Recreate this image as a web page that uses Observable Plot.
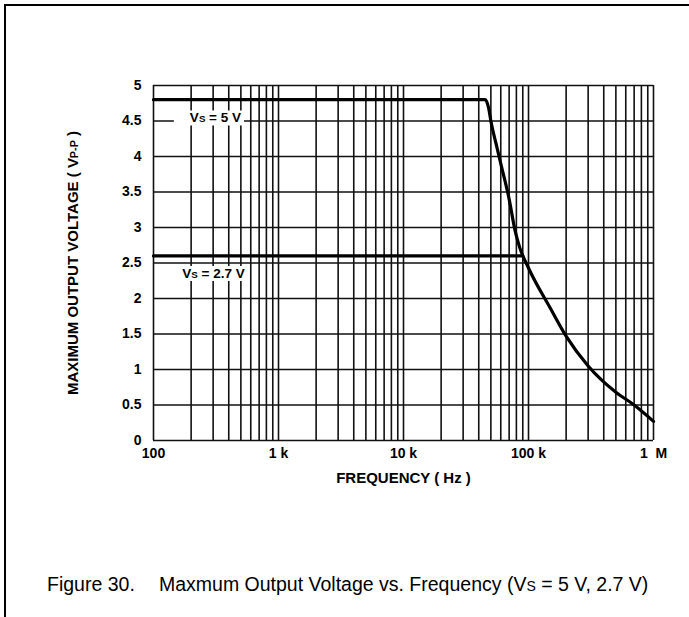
<!DOCTYPE html>
<html><head><meta charset="utf-8">
<script src="https://cdn.jsdelivr.net/npm/d3@7"></script>
<script src="https://cdn.jsdelivr.net/npm/@observablehq/plot@0.6"></script>
<style>
body{margin:0;background:#fff;}
#wrap{position:relative;width:689px;height:617px;overflow:hidden;font-family:"Liberation Sans",Arial,sans-serif;background:#fff;}
#chart{position:absolute;left:0;top:0;}
#caption{position:absolute;left:0;top:555px;}
#frame{position:absolute;left:4px;top:3.5px;width:720px;height:720px;border-top:2.5px solid #000;border-left:2.5px solid #000;pointer-events:none;}
</style></head><body>
<div id="wrap"><div id="chart"></div><svg id="caption" width="689" height="60"></svg><div id="frame"></div></div>
<script>
// ---- data ----
const freq5 = [100, 45000, 48000, 50000, 55000, 60000, 70000, 78000, 85000, 100000, 150000, 200000, 300000, 500000, 700000, 1000000];
const volt5 = [4.8, 4.8, 4.68, 4.5, 4.18, 3.9, 3.4, 2.96, 2.72, 2.43, 1.86, 1.47, 1.05, 0.68, 0.5, 0.27];
const freq27 = [100, 90000];
const volt27 = [2.6, 2.6];
const xTickValues = [100, 1000, 10000, 100000, 1000000];
const xTickLabels = ["100", "1 k", "10 k", "100 k", "1\u00a0\u00a0M"];
const yTickValues = [0, 0.5, 1, 1.5, 2, 2.5, 3, 3.5, 4, 4.5, 5];
const yTickLabels = ["0", "0.5", "1", "1.5", "2", "2.5", "3", "3.5", "4", "4.5", "5"];
const gridDecades = [100, 1000, 10000, 100000];
const gridMultipliers = [1, 2, 3, 4, 5, 6, 7, 8, 9];
const curveLabels = ["V_{S} = 5 V", "V_{S} = 2.7 V"];
const labelFreq = [313, 302];
const labelVolt = [4.54, 2.35];
const xTitle = "FREQUENCY ( Hz )";
const yTitle = "MAXIMUM OUTPUT VOLTAGE ( V_{P-P} )";
const captionLead = "Figure 30.";
const captionText = "Maxmum Output Voltage vs. Frequency (V_{S} = 5 V, 2.7 V)";

// ---- tables ----
const data5 = freq5.map((f, i) => ({f, v: volt5[i]}));
const data27 = freq27.map((f, i) => ({f, v: volt27[i]}));
const gridFreqs = gridDecades.flatMap(d => gridMultipliers.map(m => d * m)).concat([1000000]);

const FONT = "'Liberation Sans', Arial, sans-serif";
const plot = Plot.plot({
  width: 689, height: 500,
  marginLeft: 153, marginRight: 36, marginTop: 85, marginBottom: 60,
  x: {type: "log", domain: [100, 1000000]},
  y: {domain: [0, 5]},
  style: {fontFamily: FONT, fontSize: "14px", fontWeight: "bold", background: "transparent", color: "#000"},
  marks: [
    Plot.ruleX(gridFreqs, {stroke: "#111", strokeWidth: 1.6}),
    Plot.ruleY(yTickValues, {stroke: "#111", strokeWidth: 1.6}),
    Plot.text(curveLabels, {x: (d, i) => labelFreq[i], y: (d, i) => labelVolt[i], text: d => d,
      fontSize: 13.5, fontWeight: "bold", fill: "#000"}),
    Plot.line(data27, {x: "f", y: "v", stroke: "#000", strokeWidth: 3.2}),
    Plot.line(data5, {x: "f", y: "v", stroke: "#000", strokeWidth: 3.2, curve: "monotone-x"}),
    Plot.axisX({ticks: xTickValues, tickFormat: d => xTickLabels[xTickValues.indexOf(d)], tickSize: 0, tickPadding: 8, label: null, fontSize: 14}),
    Plot.axisY({ticks: yTickValues, tickFormat: d => yTickLabels[yTickValues.indexOf(d)], tickSize: 0, tickPadding: 12, label: null, fontSize: 14}),
    Plot.text([xTitle], {frameAnchor: "bottom", dy: 42, text: d => d, fontSize: 15, fontWeight: "bold", fill: "#000"}),
    Plot.text([yTitle], {frameAnchor: "left", dx: -80, rotate: -90, textAnchor: "middle", text: d => d, fontSize: 15, fontWeight: "bold", fill: "#000"})
  ]
});
document.getElementById("chart").appendChild(plot);

const NS = "http://www.w3.org/2000/svg";
function applySubscripts(t, scale) {
  const s = t.textContent;
  if (!s.includes("_{")) return;
  const parts = s.split(/(_\{[^}]*\})/);
  t.textContent = "";
  parts.forEach(p => {
    if (!p) return;
    const ts = document.createElementNS(NS, "tspan");
    const m = p.match(/^_\{([^}]*)\}$/);
    if (m) { ts.textContent = m[1]; ts.setAttribute("font-size", scale + "em"); }
    else ts.textContent = p;
    t.appendChild(ts);
  });
}
const labelNodes = Array.from(plot.querySelectorAll("text")).filter(t => curveLabels.includes(t.textContent));
plot.querySelectorAll("text").forEach(t => applySubscripts(t, 0.72));

// white boxes behind curve labels
labelNodes.forEach(t => {
  const b = t.getBBox();
  const r = document.createElementNS(NS, "rect");
  r.setAttribute("x", b.x - 16);
  r.setAttribute("y", b.y);
  r.setAttribute("width", b.width + 19);
  r.setAttribute("height", b.height);
  r.setAttribute("fill", "#fff");
  const tr = t.getAttribute("transform");
  if (tr) r.setAttribute("transform", tr);
  t.parentNode.insertBefore(r, t);
});

// caption
const cap = d3.select("#caption");
cap.append("text").attr("x", 47).attr("y", 36).attr("font-family", FONT).attr("font-size", 19.5).attr("fill", "#000")
  .text(captionLead);
const ct = cap.append("text").attr("x", 159).attr("y", 36).attr("font-family", FONT).attr("font-size", 19.5).attr("fill", "#000")
  .text(captionText);
applySubscripts(ct.node(), 0.72);
</script>
</body></html>
